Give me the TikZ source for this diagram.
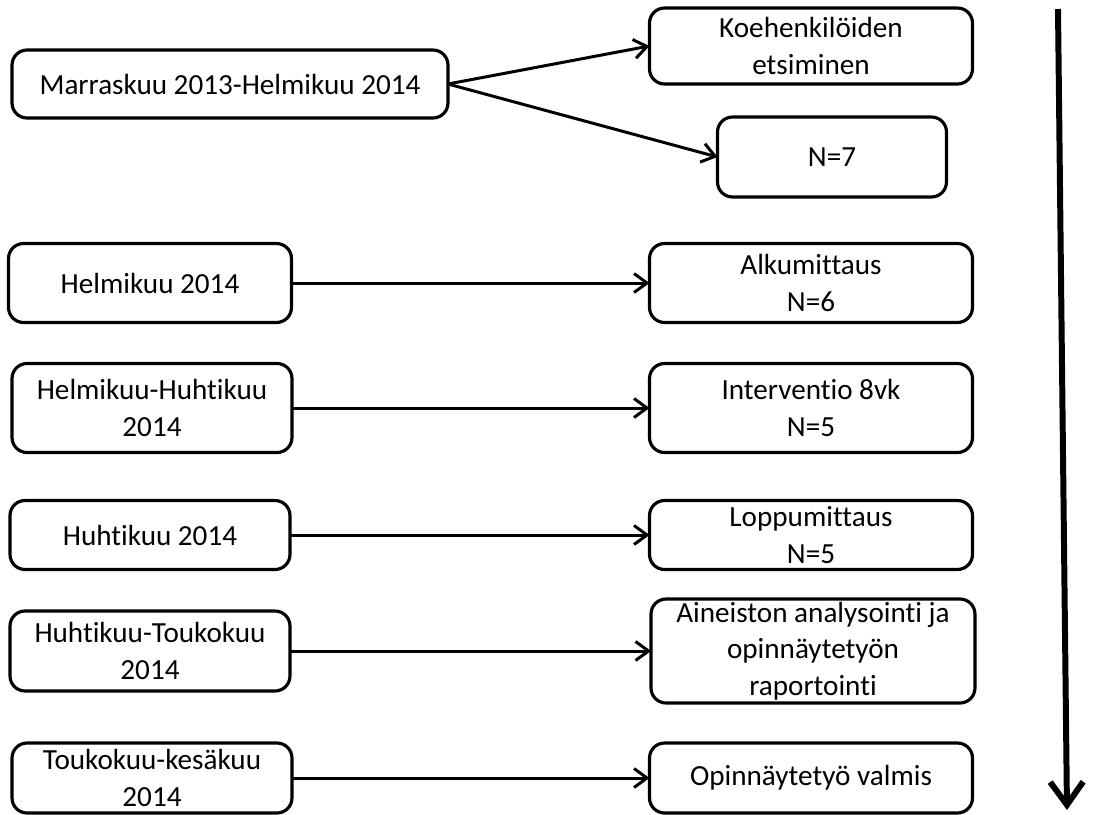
\documentclass[tikz,border=0pt]{standalone}
\usepackage{fontspec}
\setmainfont{Carlito}[Ligatures=NoCommon]
\usetikzlibrary{arrows.meta,positioning}

\begin{document}
\begin{tikzpicture}[x=0.02cm, y=-0.02cm,
  box/.style={draw, rounded corners=0.3cm, line width=1.8pt, align=center,
    inner sep=0pt, outer sep=0pt, font=\fontsize{16.6}{20.9}\selectfont},
  link/.style={line width=1.7pt, -{Straight Barb[length=0.26cm, width=0.38cm]}}]
  \fill[white] (0,0) rectangle (1117,814);

  % time periods
  \node[box, minimum width=8.72cm, minimum height=1.36cm] (marr) at (230,84) {Marraskuu 2013-Helmikuu 2014};
  \node[box, minimum width=5.66cm, minimum height=1.58cm] (helmi) at (150,283) {Helmikuu 2014};
  \node[box, minimum width=5.6cm, minimum height=1.78cm] (helhuh) at (152,408) {Helmikuu-Huhtikuu\\2014};
  \node[box, minimum width=5.6cm, minimum height=1.38cm] (huhti) at (150,535) {Huhtikuu 2014};
  \node[box, minimum width=5.6cm, minimum height=1.6cm] (huhtou) at (150,651) {Huhtikuu-Toukokuu\\2014};
  \node[box, minimum width=5.6cm, minimum height=1.4cm] (toukes) at (152,778) {Toukokuu-kesäkuu\\2014};

  % tasks
  \node[box, minimum width=6.46cm, minimum height=1.52cm] (koeh) at (811,46) {Koehenkilöiden\\etsiminen};
  \node[box, minimum width=4.58cm, minimum height=1.6cm] (nseven) at (832,157) {N=7};
  \node[box, minimum width=6.46cm, minimum height=1.58cm] (alku) at (811,283) {Alkumittaus\\N=6};
  \node[box, minimum width=6.46cm, minimum height=1.78cm] (interv) at (811,408) {Interventio 8vk\\N=5};
  \node[box, minimum width=6.46cm, minimum height=1.38cm] (loppu) at (811,535) {Loppumittaus\\N=5};
  \node[box, minimum width=6.48cm, minimum height=2.08cm] (analyysi) at (813,651) {Aineiston analysointi ja\\opinnäytetyön\\raportointi};
  \node[box, minimum width=6.46cm, minimum height=1.4cm] (valmis) at (811,778) {Opinnäytetyö valmis};

  \draw[link] (marr.east) -- (koeh.west);
  \draw[link] (marr.east) -- (nseven.west);
  \draw[link] (helmi) -- (alku);
  \draw[link] (helhuh) -- (interv);
  \draw[link] (huhti) -- (loppu);
  \draw[link] (huhtou) -- (analyysi);
  \draw[link] (toukes) -- (valmis);

  % time axis
  \coordinate (tstart) at (1058,9);
  \coordinate (tend) at (1067,810);
  \draw[line width=3.4pt, -{Straight Barb[length=0.46cm, width=0.66cm]}] (tstart) -- (tend);
\end{tikzpicture}
\end{document}
